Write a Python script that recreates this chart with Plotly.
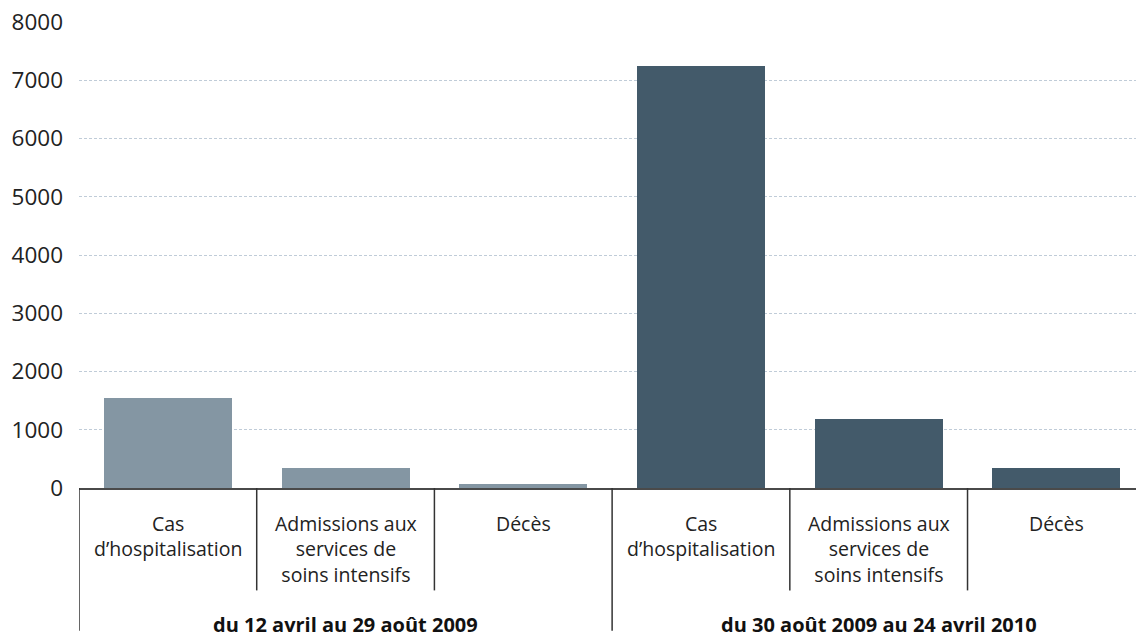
import plotly.graph_objects as go

# ---- data ----
categories = ["Cas<br>d’hospitalisation",
              "Admissions aux<br>services de<br>soins intensifs",
              "Décès"]
periods = ["du 12 avril au 29 août 2009", "du 30 août 2009 au 24 avril 2010"]
values_2009 = [1550, 350, 75]
values_2010 = [7250, 1190, 350]
y_ticks = [0, 1000, 2000, 3000, 4000, 5000, 6000, 7000, 8000]

colors = ["#8496a3", "#435a6a"]
series = [values_2009, values_2010]

W, H = 1136, 637
ML, MT, MB = 78.7, 22.3, 637 - 488.3
plot_h = H - MT - MB

def py(pixel_y):
    """pixel row -> paper y coordinate"""
    return (H - MB - pixel_y) / plot_h

FONT = "Open Sans"
n_cat = len(categories)

fig = go.Figure()
for g, vals in enumerate(series):
    xs = [g * n_cat + i for i in range(n_cat)]
    fig.add_trace(go.Bar(
        x=xs, y=vals, width=0.72,
        marker=dict(color=colors[g], line=dict(width=0)),
        name=periods[g], showlegend=False,
        hovertemplate="%{y}<extra></extra>",
    ))

annotations = []
shapes = []
for g, period in enumerate(periods):
    for i, cat in enumerate(categories):
        xc = g * n_cat + i
        annotations.append(dict(
            x=xc, xref="x", y=py(508), yref="paper",
            text=cat, showarrow=False, xanchor="center", yanchor="top",
            align="center", font=dict(family=FONT, size=19.5, color="#222222"),
        ))
        if i > 0:
            shapes.append(dict(
                type="line", xref="x", yref="paper",
                x0=xc - 0.5, x1=xc - 0.5, y0=0, y1=py(590.7),
                line=dict(color="#333333", width=1.5),
            ))
    # group label + group divider
    gx = g * n_cat + (n_cat - 1) / 2
    annotations.append(dict(
        x=gx, xref="x", y=py(609), yref="paper",
        text="<b>" + period + "</b>", showarrow=False,
        xanchor="center", yanchor="top",
        font=dict(family=FONT, size=20, color="#111111"),
    ))
    shapes.append(dict(
        type="line", xref="x", yref="paper",
        x0=g * n_cat - 0.5, x1=g * n_cat - 0.5, y0=0, y1=py(631),
        line=dict(color="#333333", width=1.5),
    ))

fig.update_layout(
    width=W, height=H,
    margin=dict(l=ML, r=0, t=MT, b=MB, pad=0),
    paper_bgcolor="white", plot_bgcolor="white",
    bargap=0,
    annotations=annotations, shapes=shapes,
    xaxis=dict(
        range=[-0.5, 5.448], showticklabels=False, showgrid=False,
        zeroline=False, ticks="", showline=True, linecolor="#4a4a4a",
        linewidth=2, fixedrange=True,
    ),
    yaxis=dict(
        range=[0, 8000], tickvals=y_ticks,
        ticktext=[str(v) for v in y_ticks],
        showgrid=True, gridcolor="#c0ccd8", gridwidth=1, griddash="3px,2px",
        zeroline=False, showline=False, ticks="", ticklabelstandoff=15,
        tickfont=dict(family=FONT, size=22.5, color="#222222"),
        fixedrange=True,
    ),
)

fig.write_html("out.html",
               config={"displayModeBar": False},
               post_script="document.body.style.margin='0';"
                           "document.body.style.overflow='hidden';")
